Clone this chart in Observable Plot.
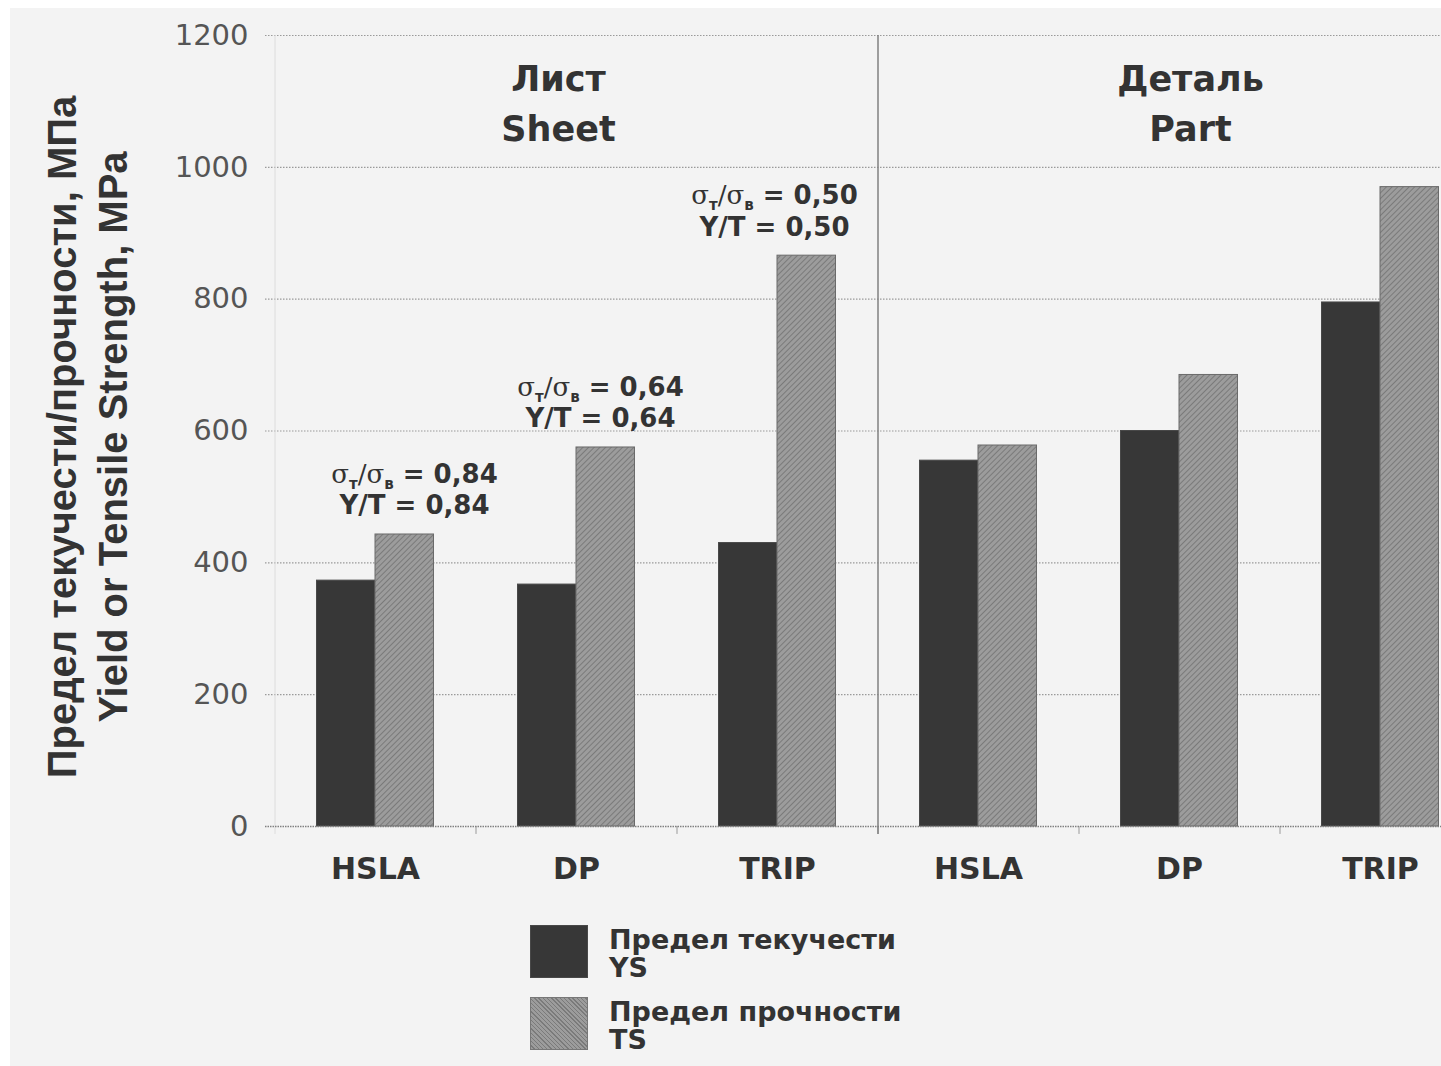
<!DOCTYPE html>
<html><head><meta charset="utf-8">
<script src="https://cdn.jsdelivr.net/npm/d3@7"></script>
<script src="https://cdn.jsdelivr.net/npm/@observablehq/plot@0.6"></script>
<style>
html,body{margin:0;padding:0;}
body{width:1441px;height:1066px;background:#f3f3f3;box-shadow:inset 10px 8px 0 #fff;position:relative;overflow:hidden;font-family:"DejaVu Sans",sans-serif;color:#333;}
#chart{position:absolute;left:0;top:0;}
.sw{position:absolute;width:58px;height:53px;box-sizing:border-box;}
.lt{position:absolute;font-weight:bold;font-size:27px;line-height:28px;height:28px;color:#333;white-space:nowrap;}
</style></head><body>
<div id="chart"></div>
<div id="legend"></div>
<script>
// ---- data ----
const materials = ["HSLA", "DP", "TRIP"];
const panelKeys = ["Sheet", "Part"];
const panelTitles = ["Лист\nSheet", "Деталь\nPart"];
const sheetYS = [373, 367, 430];
const sheetTS = [443, 575, 866];
const partYS = [555, 600, 795];
const partTS = [578, 685, 970];
const ratioLabels = ["0,84", "0,64", "0,50"];
const yTicks = [0, 200, 400, 600, 800, 1000, 1200];
const yTitle = ["Предел текучести/прочности, МПа", "Yield or Tensile Strength, MPa"];
const seriesNames = [["Предел текучести", "YS"], ["Предел прочности", "TS"]];

// ---- table ----
const groups = panelKeys.flatMap(p => materials.map(m => `${p}|${m}`));
const ysAll = [...sheetYS, ...partYS], tsAll = [...sheetTS, ...partTS];
const rows = groups.map((g, i) => ({group: g, ys: ysAll[i], ts: tsAll[i]}));
const titleRows = panelTitles.map((t, i) => ({t, g: groups[i * 3 + 1]}));

const W = 1441, H = 900, step = 201, x0 = 274.5;
const annDx = [39, 24, -3];
const titleDx = [-18, 11];

const marks = [
  Plot.ruleY(yTicks.slice(1), {stroke: "#9a9a9a", strokeDasharray: "1.5,1.5", strokeWidth: 1.2}),
  Plot.ruleX([groups[0]], {y1: -12, y2: 1200, dx: -step / 2, stroke: "#dcdcdc"}),
  Plot.ruleX(groups.slice(1), {y1: -12, y2: 0, dx: -step / 2, stroke: "#999"}),
  Plot.ruleX([groups[3]], {y1: -12, y2: 1200, dx: -step / 2, stroke: "#808080", strokeWidth: 1.5}),
  Plot.barY(rows, {x: "group", y: "ys", fill: "#373737", stroke: "#484848", strokeWidth: 1, insetLeft: 42, insetRight: 100.5}),
  Plot.barY(rows, {x: "group", y: "ts", fill: "url(#hatch)", stroke: "#6a6a6a", strokeWidth: 1, insetLeft: 100.5, insetRight: 42}),
  Plot.ruleY([0], {stroke: "#808080", strokeDasharray: "1.5,1", strokeWidth: 1.5}),
  Plot.axisY({ticks: yTicks, tickSize: 0, tickPadding: 17, fontSize: 29, color: "#555", label: null, tickFormat: d => String(d)}),
  Plot.axisX({tickSize: 0, tickPadding: 31, fontSize: 30, fontWeight: "bold", color: "#333", tickFormat: d => d.split("|")[1], label: null}),
  Plot.text([yTitle[0]], {text: d => d, frameAnchor: "left", textAnchor: "middle", rotate: -90, lineAnchor: "bottom", dx: -190, dy: 6, fontSize: 40, fontWeight: "bold", fontFamily: "Liberation Sans", fill: "#333"}),
  Plot.text([yTitle[1]], {text: d => d, frameAnchor: "left", textAnchor: "middle", rotate: -90, lineAnchor: "bottom", dx: -139, dy: 6, fontSize: 40, fontWeight: "bold", fontFamily: "Liberation Sans", fill: "#333"}),
  ...titleRows.map((r, i) => Plot.text([r], {x: "g", text: "t", frameAnchor: "top", lineAnchor: "top", dy: 20, dx: titleDx[i], lineHeight: 1.43, fontSize: 35, fontWeight: "bold", fill: "#333"})),
  ...ratioLabels.map((r, i) => Plot.text([rows[i]], {x: "group", y: "ts", text: () => `σт/σв = ${r}\nY/T = ${r}`, lineAnchor: "bottom", dy: -20, dx: annDx[i], lineHeight: 1.2, fontSize: 26, fontWeight: "bold", fill: "#333"}))
];

const chart = Plot.plot({
  width: W, height: H,
  marginTop: 35, marginBottom: 74, marginLeft: 265, marginRight: 0,
  style: {background: "transparent", fontFamily: "DejaVu Sans, sans-serif", color: "#333", overflow: "visible"},
  x: {type: "band", domain: groups, range: [x0, x0 + step * groups.length], padding: 0, round: false},
  y: {domain: [0, 1200]},
  marks
});

// hatch pattern for TS bars
const svgNS = "http://www.w3.org/2000/svg";
const defs = document.createElementNS(svgNS, "defs");
defs.innerHTML = `<pattern id="hatch" patternUnits="userSpaceOnUse" width="4" height="4" patternTransform="rotate(45)"><rect width="4" height="4" fill="#9c9c9c"/><line x1="0.5" y1="0" x2="0.5" y2="4" stroke="#7a7a7a" stroke-width="1"/></pattern>`;
chart.insertBefore(defs, chart.firstChild);

// subscripts in σт/σв
chart.querySelectorAll("text, tspan").forEach(el => {
  if (el.children.length === 0 && el.textContent.startsWith("σт/σв")) {
    const rest = el.textContent.slice(5);
    el.innerHTML = `<tspan font-weight="normal" font-family="DejaVu Serif">σ</tspan><tspan font-size="15" dy="6">т</tspan><tspan dy="-6" font-weight="normal" font-family="DejaVu Serif">/σ</tspan><tspan font-size="15" dy="6">в</tspan><tspan dy="-6">${rest}</tspan>`;
  }
});

document.getElementById("chart").appendChild(chart);

// legend
const legend = document.getElementById("legend");
const swStyles = [
  "background:#373737;border:1px solid #484848;",
  "background:repeating-linear-gradient(45deg,#9c9c9c 0 2px,#7a7a7a 2px 3px);border:1px solid #777;"
];
const legTop = [925, 997];
seriesNames.forEach((s, i) => {
  const sw = document.createElement("div");
  sw.className = "sw";
  sw.style.cssText = `left:530px;top:${legTop[i]}px;` + swStyles[i];
  legend.appendChild(sw);
  s.forEach((line, j) => {
    const t = document.createElement("div");
    t.className = "lt";
    t.style.cssText = `left:609px;top:${legTop[i] + 1 + j * 28}px;`;
    t.textContent = line;
    legend.appendChild(t);
  });
});
</script>
</body></html>
